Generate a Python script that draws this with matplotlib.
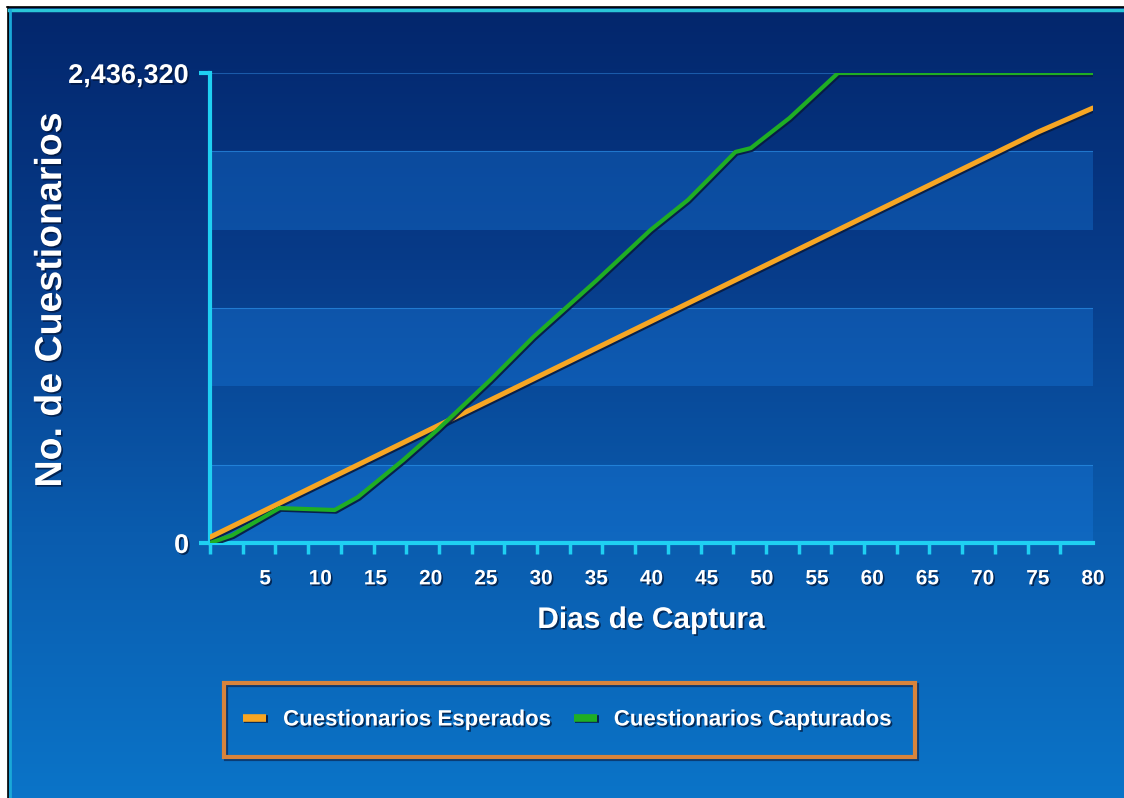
import numpy as np
import matplotlib
matplotlib.use("Agg")
import matplotlib.pyplot as plt
import matplotlib.patheffects as pe
from matplotlib.colors import LinearSegmentedColormap
from matplotlib.patches import Rectangle

# datos
total = 2436320
dias_esperados = [0, 5, 10, 15, 20, 25, 30, 35, 40, 45, 50, 55, 60, 65, 70, 75, 80]
esperados = [30000, 170000, 310000, 450000, 590000, 730000, 870000, 1010000, 1150000,
             1290000, 1430000, 1570000, 1710000, 1850000, 1990000, 2130000, 2255000]
dias_capturados = [0, 2, 6.3, 11.3, 13.4, 17.5, 20.6, 25.4, 29.3, 30, 35, 39.9, 43.3,
                   45, 47.6, 49, 52.5, 56.9, 80]
capturados = [0, 40000, 181000, 171000, 238000, 430000, 586000, 845000, 1068000, 1104000,
              1360000, 1622000, 1778000, 1876000, 2027000, 2047000, 2203000, 2436320, 2436320]
etiquetas_x = [5, 10, 15, 20, 25, 30, 35, 40, 45, 50, 55, 60, 65, 70, 75, 80]

cian = '#1fd0f2'
naranja = '#f7a623'
verde = '#1fae24'
fuente = ['Liberation Sans', 'DejaVu Sans']
sombra = [pe.withSimplePatchShadow(offset=(1.2, -1.2), shadow_rgbFace='#001030', alpha=0.7)]
sombra_linea = [pe.SimpleLineShadow(offset=(1, -1.2), shadow_color='#071a40', alpha=0.9), pe.Normal()]

fig = plt.figure(figsize=(11.24, 7.98), dpi=100, facecolor='white')

# fondo degradado
bg = fig.add_axes([8/1124, 0, 1116/1124, 791/798])
cmap = LinearSegmentedColormap.from_list('fondo', ['#03266c', '#073c8a', '#0a5cae', '#0a74c8'])
grad = np.linspace(0, 1, 256).reshape(-1, 1)
bg.imshow(grad, aspect='auto', cmap=cmap, extent=[0, 1, 0, 1], origin='upper')
bg.set_xlim(0, 1); bg.set_ylim(0, 1)
bg.axis('off')
# borde negro + cian
fig.add_artist(plt.Line2D([7/1124, 1], [1-6.5/798]*2, color='black', lw=1.2))
fig.add_artist(plt.Line2D([7.5/1124]*2, [0, 1-6.5/798], color='black', lw=1.2))
fig.add_artist(plt.Line2D([9/1124, 1], [1-10/798]*2, color='#2ac6d8', lw=2.5))
fig.add_artist(plt.Line2D([10/1124]*2, [0, 1-10/798], color='#1aa8d8', lw=2))

ax = fig.add_axes([210/1124, 1-543/798, 883/1124, 470/798])
ax.patch.set_alpha(0)
ax.set_xlim(0, 80)
ax.set_ylim(0, total)

# bandas
for i in range(6):
    if i % 2 == 0:
        ax.axhspan(total*i/6, total*(i+1)/6, color='#1a7ee4', alpha=0.33, lw=0, zorder=0)
        ax.axhline(total*(i+1)/6, color='#2f95ec', lw=0.8, alpha=0.6, zorder=0)
ax.axhline(total, color='#2a7ad0', lw=0.8, alpha=0.6, zorder=0)

ax.plot(dias_esperados, esperados, color=naranja, lw=3.6, solid_capstyle='round', zorder=3,
        path_effects=sombra_linea)
ax.plot(dias_capturados, capturados, color=verde, lw=3.0, solid_capstyle='round', zorder=4,
        path_effects=sombra_linea)

for s in ['top', 'right']:
    ax.spines[s].set_visible(False)
for s in ['left', 'bottom']:
    ax.spines[s].set_color(cian)
    ax.spines[s].set_linewidth(3)

ax.set_xticks(etiquetas_x)
ax.set_xticklabels([str(d) for d in etiquetas_x])
ax.set_xticks(np.linspace(0, 80, 28), minor=True)
ax.tick_params(axis='x', which='major', length=0, pad=19, labelsize=15, labelcolor='white')
ax.tick_params(axis='x', which='minor', length=8, width=2.5, color=cian, direction='out')
ax.set_yticks([0, total])
ax.set_yticklabels(['0', '2,436,320'])
ax.tick_params(axis='y', length=8, width=3, color=cian, pad=7, labelsize=19.5, labelcolor='white')
for t in ax.get_xticklabels() + ax.get_yticklabels():
    t.set_family(fuente); t.set_fontweight('bold'); t.set_path_effects(sombra)

fig.text(51/1124, 1-300/798, 'No. de Cuestionarios', rotation=90, ha='center', va='center',
         color='white', fontsize=27, fontweight='bold', family=fuente, path_effects=sombra)
fig.text(651/1124, 1-620/798, 'Dias de Captura', ha='center', va='center', color='white',
         fontsize=21.5, fontweight='bold', family=fuente, path_effects=sombra)

# leyenda
fig.add_artist(Rectangle((226/1124, 1-759/798), 691/1124, 74/798, transform=fig.transFigure,
                         fill=False, ec='#0a1a40', lw=3, alpha=0.6))
fig.add_artist(Rectangle((224/1124, 1-757/798), 691/1124, 74/798, transform=fig.transFigure,
                         fill=False, ec='#d8843c', lw=3))
h1, = ax.plot([], [], color=naranja, lw=5.5, solid_capstyle='butt', path_effects=sombra_linea)
h2, = ax.plot([], [], color=verde, lw=5.5, solid_capstyle='butt', path_effects=sombra_linea)
leg = fig.legend([h1, h2], ['Cuestionarios Esperados', 'Cuestionarios Capturados'],
                 loc='center', bbox_to_anchor=(567/1124, 1-720/798), ncol=2, frameon=False,
                 handlelength=1.05, handletextpad=0.75, columnspacing=1.05,
                 prop={'family': fuente, 'weight': 'bold', 'size': 16})
for t in leg.get_texts():
    t.set_color('white'); t.set_path_effects(sombra)

fig.savefig('out.png', dpi=100, facecolor=fig.get_facecolor())
